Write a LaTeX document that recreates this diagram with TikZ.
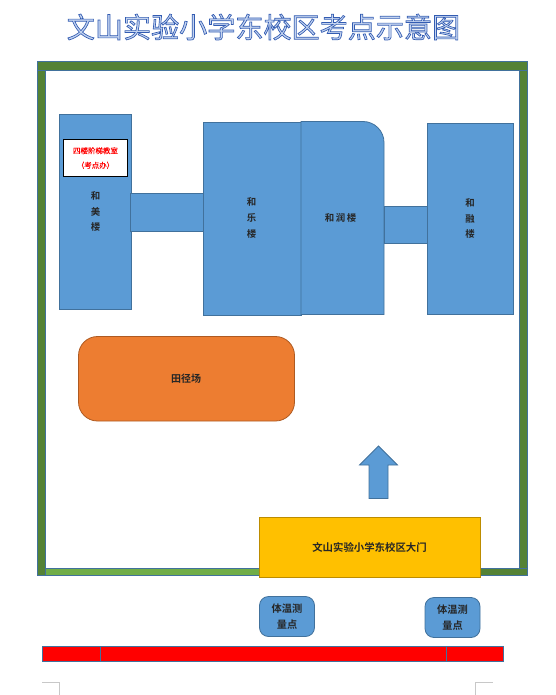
\documentclass[tikz,border=0pt]{standalone}
\usepackage{fontspec}
\setmainfont{Noto Sans CJK SC}
\newfontfamily\cjkthin[FakeBold=0.25]{Noto Sans CJK SC}
\newfontfamily\cjkbold[BoldFont={Noto Sans CJK SC Bold}]{Noto Sans CJK SC}
\newfontfamily\cjktitle[FakeBold=2.4]{Noto Sans CJK SC}
\definecolor{edgeblue}{HTML}{41719C}
\definecolor{bluefill}{HTML}{5B9BD5}
\definecolor{darkgreen}{HTML}{548235}
\definecolor{lightgreen}{HTML}{70AD47}
\definecolor{orangefill}{HTML}{ED7D31}
\definecolor{orangeedge}{HTML}{AE5A21}
\definecolor{goldfill}{HTML}{FFC000}
\definecolor{goldedge}{HTML}{BC8C00}
\definecolor{titlefill}{HTML}{C4D4F0}
\definecolor{cropgrey}{HTML}{C8C8C8}
\tikzset{
  bluebox/.style={draw=edgeblue,fill=bluefill,line width=0.8pt},
  wall/.style={draw=edgeblue,fill=darkgreen,line width=0.8pt},
  bar/.style={draw=edgeblue,fill=red,line width=0.9pt},
  label/.style={font=\cjkbold\bfseries\fontsize{9.4}{15.6}\selectfont,text=black!85,align=center,inner sep=0pt},
  smalllabel/.style={font=\cjkbold\bfseries\fontsize{10.2}{15.6}\selectfont,text=black!85,align=center,inner sep=0pt},
  crop/.style={draw=cropgrey,line width=0.7pt},
}
\begin{document}
\begin{tikzpicture}[x=1pt,y=-1pt]
\useasboundingbox (0,0) rectangle (556,695);
% title
\node[inner sep=0pt,text=titlefill] (title) at (263.5,27)
  {\special{pdf:code q}\cjktitle\fontsize{28.1}{30}\selectfont\special{pdf:code 0.20 0.36 0.70 RG}文山实验小学东校区考点示意图\special{pdf:code Q}};
% walls
\path[wall] (37.5,61.5) rectangle (45,575.5);
\path[wall] (519.5,61.5) rectangle (527,575);
\path[wall] (37.5,61.5) rectangle (527,70.5);
\path[draw=edgeblue,fill=lightgreen,line width=0.8pt] (45,568.5) rectangle (260,575);
\path[wall] (480,568.5) rectangle (527,575);
% buildings
\path[bluebox] (59.5,114.5) rectangle (131.5,309.5);
\path[bluebox] (130.5,193.5) rectangle (203.5,231);
\path[bluebox] (203.5,122.5) rectangle (301,315.5);
\path[bluebox] (301,121.5) -- (363,121.5) arc[start angle=-90,end angle=0,radius=21] -- (384,314.5) -- (301,314.5) -- cycle;
\path[bluebox] (384,206.5) -- (428,206.5) -- (428,243.5) -- (384,243.5) -- cycle;
\path[bluebox] (427.5,123.5) rectangle (513.5,314.5);
% exam office
\node[draw=black,fill=white,line width=0.9pt,minimum width=64pt,minimum height=37.5pt,inner sep=0pt,text=red,align=center,font=\cjkthin\fontsize{7.5}{14.5}\selectfont] (office) at (95.5,158) {四楼阶梯教室\\（考点办）};
% labels
\node[label] (hemei) at (95.5,211.5) {和\\美\\楼};
\node[label] (hele) at (251.5,218) {和\\乐\\楼};
\node[label] (herun) at (340.5,218) {和\,润\,楼};
\node[label] (herong) at (470,218.5) {和\\融\\楼};
% field
\path[draw=orangeedge,fill=orangefill,line width=0.8pt,rounded corners=19pt] (78.5,336.5) rectangle (294.5,421);
\node[label,font=\cjkbold\bfseries\fontsize{10}{12}\selectfont] (field) at (186,379) {田径场};
% arrow
\path[bluebox] (378.5,446) -- (397.5,465) -- (388,465) -- (388,498.5) -- (369,498.5) -- (369,465) -- (359.5,465) -- cycle;
% gate
\node[draw=goldedge,fill=goldfill,line width=0.8pt,minimum width=221pt,minimum height=60.5pt,inner sep=0pt,font=\cjkbold\bfseries\fontsize{10.4}{12}\selectfont,text=black!85] (gate) at (369.5,547.5) {文山实验小学东校区大门};
% temperature points
\node[bluebox,rounded corners=9pt,minimum width=55pt,minimum height=40pt,inner sep=0pt,smalllabel] (tempa) at (287,616.5) {体温测\\量点};
\node[bluebox,rounded corners=9pt,minimum width=55pt,minimum height=40pt,inner sep=0pt,smalllabel] (tempb) at (452.5,617.5) {体温测\\量点};
% red bar
\path[bar] (42.5,646.5) rectangle (100.5,661.5);
\path[bar] (100.5,646.5) rectangle (446.5,661.5);
\path[bar] (446.5,646.5) rectangle (503.5,661.5);
% crop marks
\draw[crop] (42,682.5) -- (59.5,682.5) -- (59.5,695);
\draw[crop] (475.5,695) -- (475.5,682.5) -- (493,682.5);
\end{tikzpicture}
\end{document}
